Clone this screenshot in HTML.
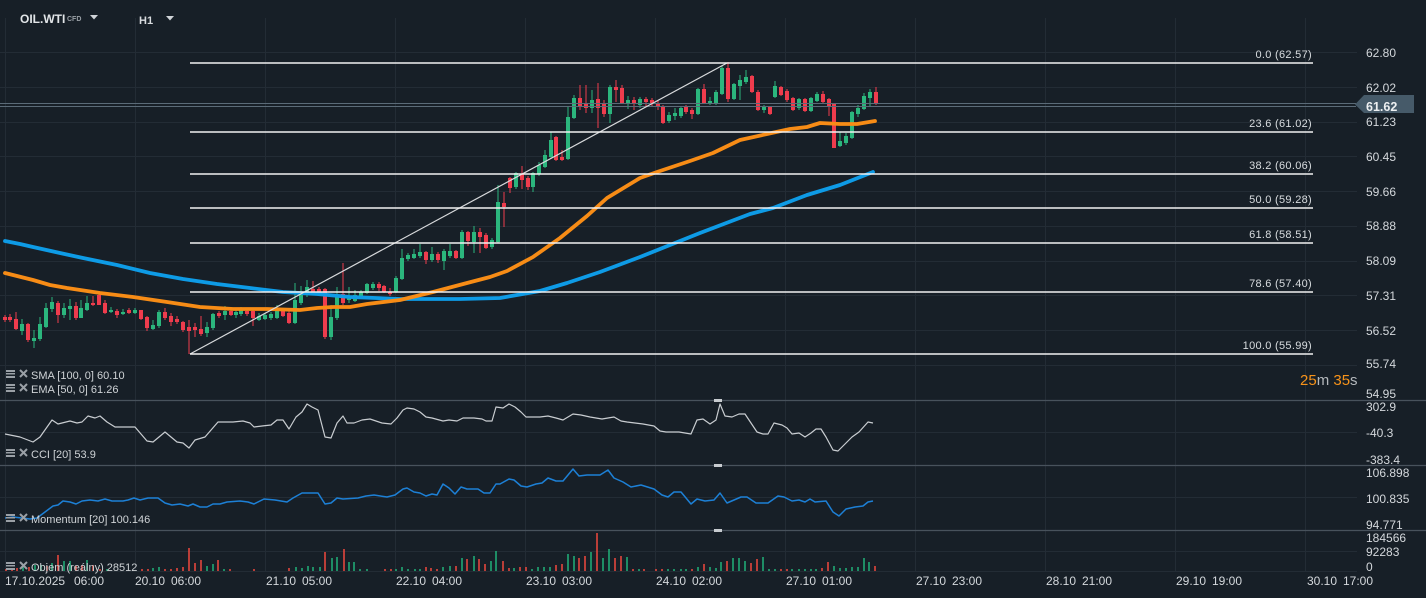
<!DOCTYPE html>
<html><head><meta charset="utf-8"><style>
html,body{margin:0;padding:0;background:#171f27;}
svg{display:block;}
text{font-family:"Liberation Sans",sans-serif;}
</style></head><body>
<svg width="1426" height="598" viewBox="0 0 1426 598" xmlns="http://www.w3.org/2000/svg">
<rect x="0" y="0" width="1426" height="598" fill="#171f27"/>
<!-- vertical grid -->
<g stroke="#232c35" stroke-width="1">
<path d="M5.5 18V572M135.5 18V572M265.5 18V572M395.5 18V572M525.5 18V572M655.5 18V572M785.5 18V572M915.5 18V572M1045.5 18V572M1175.5 18V572M1305.5 18V572"/>
<path d="M0 52.5H1357M0 87.5H1357M0 122.5H1357M0 156.5H1357M0 191.5H1357M0 226.5H1357M0 261.5H1357M0 295.5H1357M0 330.5H1357M0 365.5H1357M0 432.5H1357M0 497.5H1357M0 551.5H1357M0 571.5H1357"/>
</g>
<!-- separators -->
<g stroke="#48525c" stroke-width="1.2">
<path d="M0 400.5H1426M0 465.5H1426M0 530.5H1426"/>
</g>
<g fill="#c8ccd0"><rect x="714" y="399" width="8" height="3"/><rect x="714" y="464" width="8" height="3"/><rect x="714" y="529" width="8" height="3"/></g>

<!-- candles wicks -->
<path fill="none" stroke="#2bb67d" stroke-width="1" d="M22 319V335M34 330V348M40 317V341M46 303V328M52 297V312M64 303V318M70 299V320M81 300V318M87 296V311M111 307V313M123 309V315M135 308V314M153 320V330M159 310V328M207 322V337M213 313V330M225 306V320M236 309V318M241 307V316M259 313V321M265 313V320M271 312V320M277 305V319M295 283V324M301 286V305M307 280V297M331 305V340M337 287V320M349 287V303M355 290V302M361 290V299M367 283V294M373 282V290M396 276V293M402 249V280M408 253V261M414 249V259M420 244V258M432 247V262M444 249V270M450 244V258M462 230V259M474 226V253M492 238V249M498 185V243M516 172V189M533 172V192M539 162V176M545 150V168M551 132V158M568 106V160M574 95V119M592 90V113M610 85V123M628 96V109M640 97V108M669 112V123M675 108V120M681 107V118M698 88V115M710 97V105M716 90V105M722 66V95M734 83V100M740 75V100M746 70V84M764 105V113M775 81V98M799 98V110M811 97V112M817 92V102M840 132V147M846 133V145M852 111V139M858 105V117M864 93V110M870 89V106"/>
<path fill="none" stroke="#ef3c4d" stroke-width="1" d="M5 315V322M10 314V322M16 312V330M28 323V342M58 301V323M76 302V320M93 296V306M99 291V305M105 300V314M117 309V318M129 308V314M141 310V320M147 316V331M165 308V320M171 313V326M177 316V324M183 321V332M189 320V354M195 323V337M201 316V336M219 311V318M231 308V316M247 309V316M253 310V326M283 308V317M289 311V324M313 281V295M319 287V296M325 288V339M343 263V305M379 282V291M384 285V293M390 288V296M426 251V264M438 252V263M456 250V259M468 231V246M480 228V253M486 233V249M504 192V227M510 177V193M522 166V189M528 176V190M556 136V161M562 150V161M580 85V110M586 85V113M598 83V128M604 100V117M616 80V102M622 85V104M634 97V110M646 97V106M652 98V106M658 100V110M663 105V124M686 105V114M692 108V119M704 84V104M728 62V102M752 75V93M758 90V111M770 106V115M781 86V96M787 89V102M793 97V111M805 98V112M823 91V103M829 98V116M834 103V148M876 87V105"/>
<!-- candle bodies -->
<path fill="#2bb67d" d="M20 324h4v7h-4zM32 338h4v3h-4zM38 324h4v15h-4zM44 308h4v19h-4zM50 302h4v7h-4zM62 308h4v7h-4zM68 306h4v3h-4zM79 308h4v10h-4zM85 303h4v7h-4zM109 310h4v2h-4zM121 312h4v2h-4zM133 310h4v3h-4zM151 325h4v4h-4zM157 312h4v14h-4zM205 327h4v6h-4zM211 314h4v14h-4zM223 311h4v4h-4zM234 312h4v3h-4zM239 310h4v4h-4zM257 316h4v4h-4zM263 315h4v4h-4zM269 314h4v4h-4zM275 309h4v9h-4zM293 300h4v23h-4zM299 293h4v10h-4zM305 287h4v8h-4zM329 317h4v20h-4zM335 295h4v23h-4zM347 296h4v4h-4zM353 295h4v6h-4zM359 292h4v5h-4zM365 284h4v9h-4zM371 284h4v4h-4zM394 278h4v14h-4zM400 258h4v21h-4zM406 255h4v4h-4zM412 254h4v4h-4zM418 252h4v4h-4zM430 254h4v6h-4zM442 251h4v10h-4zM448 251h4v5h-4zM460 232h4v26h-4zM472 232h4v10h-4zM490 240h4v7h-4zM496 202h4v40h-4zM514 173h4v14h-4zM531 173h4v14h-4zM537 165h4v9h-4zM543 155h4v12h-4zM549 140h4v17h-4zM566 117h4v42h-4zM572 98h4v20h-4zM590 100h4v8h-4zM608 87h4v27h-4zM626 100h4v4h-4zM638 99h4v6h-4zM667 115h4v6h-4zM673 113h4v3h-4zM679 108h4v8h-4zM696 89h4v25h-4zM708 101h4v3h-4zM714 92h4v12h-4zM720 68h4v26h-4zM732 84h4v15h-4zM738 80h4v6h-4zM744 77h4v5h-4zM762 107h4v3h-4zM773 86h4v11h-4zM797 99h4v9h-4zM809 98h4v13h-4zM815 94h4v7h-4zM838 141h4v5h-4zM844 136h4v7h-4zM850 112h4v26h-4zM856 108h4v6h-4zM862 96h4v13h-4zM868 92h4v6h-4z"/>
<path fill="#ef3c4d" d="M3 317h4v3h-4zM8 317h4v3h-4zM14 319h4v10h-4zM26 324h4v16h-4zM56 303h4v12h-4zM74 306h4v12h-4zM91 303h4v2h-4zM97 295h4v10h-4zM103 303h4v10h-4zM115 311h4v4h-4zM127 310h4v3h-4zM139 310h4v9h-4zM145 317h4v11h-4zM163 312h4v6h-4zM169 316h4v6h-4zM175 319h4v3h-4zM181 322h4v8h-4zM187 327h4v4h-4zM193 327h4v3h-4zM199 329h4v5h-4zM217 313h4v3h-4zM229 311h4v4h-4zM245 311h4v3h-4zM251 311h4v7h-4zM281 309h4v7h-4zM287 313h4v10h-4zM311 289h4v4h-4zM317 289h4v3h-4zM323 289h4v48h-4zM341 294h4v9h-4zM377 284h4v4h-4zM382 286h4v6h-4zM388 292h4v2h-4zM424 252h4v8h-4zM436 254h4v6h-4zM454 251h4v7h-4zM466 232h4v9h-4zM478 232h4v5h-4zM484 235h4v13h-4zM502 203h4v4h-4zM508 178h4v10h-4zM520 174h4v6h-4zM526 178h4v9h-4zM554 137h4v23h-4zM560 157h4v3h-4zM578 98h4v9h-4zM584 104h4v4h-4zM596 99h4v9h-4zM602 104h4v10h-4zM614 87h4v3h-4zM620 88h4v15h-4zM632 100h4v4h-4zM644 99h4v3h-4zM650 100h4v3h-4zM656 103h4v3h-4zM661 106h4v17h-4zM684 107h4v5h-4zM690 110h4v4h-4zM702 89h4v14h-4zM726 68h4v31h-4zM750 76h4v16h-4zM756 92h4v18h-4zM768 107h4v7h-4zM779 87h4v8h-4zM785 91h4v9h-4zM791 98h4v12h-4zM803 99h4v12h-4zM821 94h4v8h-4zM827 99h4v8h-4zM832 104h4v44h-4zM874 92h4v12h-4z"/>

<!-- SMA 100 -->
<polyline fill="none" stroke="#0e9be6" stroke-width="3.8" stroke-linejoin="round" stroke-linecap="round" points="5,241 20,244 33,247 60,253 83,258 117,265 150,273 183,279 217,284 250,288 283,292 300,293 317,294 350,297 400,299 460,299 500,298 540,291 567,283 600,272 640,257 700,233 750,214 773,208 807,195 840,185 873,172"/>
<!-- EMA 50 -->
<polyline fill="none" stroke="#f78c16" stroke-width="3.8" stroke-linejoin="round" stroke-linecap="round" points="5,273 33,280 50,285 67,288 100,293 133,297 167,302 200,307 233,309 267,309 300,310 317,308 333,307 350,307 367,304 400,300 433,292 467,283 490,277 507,271 533,257 560,238 587,216 607,198 640,178 657,172 690,161 713,153 740,140 767,134 790,129 807,127 820,123 840,124 857,124 875,121"/>

<!-- current price line -->
<g stroke="#5b6b78" stroke-width="1"><path d="M0 103.5H1356M0 106.5H1356"/></g>
<polygon points="1355,104.5 1364,95 1414,95 1414,113 1364,113" fill="#465a69"/>
<text x="1366" y="111" font-size="12.5" font-weight="bold" fill="#eef0f2">61.62</text>

<!-- fib -->
<line x1="190" y1="354" x2="727" y2="63" stroke="#d8dadc" stroke-width="1.2"/>
<g stroke="#f2f2f2" stroke-width="1.5">
<path d="M190 63H1313M190 132H1313M190 174H1313M190 208H1313M190 243H1313M190 292H1313M190 354H1313"/>
</g>
<g font-size="11" fill="#d8dcdf" text-anchor="end" letter-spacing="0.3">
<text x="1312" y="58">0.0 (62.57)</text>
<text x="1312" y="127">23.6 (61.02)</text>
<text x="1312" y="169">38.2 (60.06)</text>
<text x="1312" y="203">50.0 (59.28)</text>
<text x="1312" y="238">61.8 (58.51)</text>
<text x="1312" y="287">78.6 (57.40)</text>
<text x="1312" y="349">100.0 (55.99)</text>
</g>

<!-- CCI -->
<polyline fill="none" stroke="#c9cdd1" stroke-width="1.2" stroke-linejoin="round" points="5,434 10,435 20,437 33,442 40,437 52,420 58,424 70,421 77,423 82,422 88,416 95,418 100,416 107,422 115,427 123,427 135,427 147,441 153,442 165,432 177,442 183,443 189,448 195,440 205,437 218,422 233,422 243,421 250,423 254,427 262,426 271,425 277,420 283,420 289,429 296,417 302,412 307,404 312,407 318,410 325,437 331,438 337,423 343,416 347,423 354,423 362,420 370,419 382,423 391,424 397,418 403,410 407,408 414,409 420,412 426,417 432,418 443,421 449,420 457,421 463,418 474,418 482,419 486,421 492,421 496,407 503,408 509,404 515,407 521,412 526,417 540,417 548,416 556,418 563,420 573,414 581,415 590,417 596,418 602,419 608,418 614,417 621,421 627,422 635,423 643,424 654,426 660,431 666,432 679,432 685,433 691,434 697,420 703,419 710,424 716,420 720,404 725,416 732,417 739,414 745,414 751,423 757,432 763,434 768,434 774,423 782,425 787,428 792,434 799,433 805,437 811,433 816,429 821,429 826,437 833,450 838,451 846,443 852,437 859,432 868,422 873,423"/>
<!-- Momentum -->
<polyline fill="none" stroke="#1d80d6" stroke-width="1.5" stroke-linejoin="round" points="5,518 13,517 22,518 30,519 37,518 45,512 53,506 58,505 63,501 70,502 76,504 82,501 90,500 98,501 105,499 112,501 123,501 128,500 134,498 140,500 148,498 158,498 165,503 172,505 180,504 188,506 193,504 200,507 207,507 213,504 220,504 227,502 240,501 248,502 254,504 264,499 275,500 287,502 293,498 302,493 308,493 318,493 325,504 331,503 337,498 343,499 358,498 366,496 374,495 387,497 395,495 403,489 407,488 414,492 420,493 426,496 432,494 437,495 443,484 449,488 455,494 461,487 467,489 478,489 484,493 490,493 496,484 500,484 509,479 514,480 521,486 527,487 536,484 542,483 548,478 556,481 563,481 573,469 579,476 587,475 600,475 608,470 614,478 623,482 631,487 641,485 654,489 662,495 668,497 674,492 681,492 691,504 697,499 705,501 714,500 720,493 727,503 741,497 747,497 756,503 768,503 778,496 784,497 792,501 799,500 805,502 810,499 815,502 826,501 833,512 839,516 846,509 855,507 863,506 868,502 873,501"/>
<!-- Volume -->
<path fill="none" stroke="#20b27a" stroke-width="1.5" d="M23 567V571M35 565V571M41 565V571M52 563V571M64 561V571M70 561V571M87 560V571M107 569V571M153 568V571M159 567V571M207 566V571M213 564V571M224 569V571M296 567V571M302 568V571M308 566V571M313 567V571M320 567V571M332 558V571M337 557V571M349 562V571M354 562V571M360 569V571M367 569V571M396 569V571M402 567V571M408 569V571M415 569V571M420 569V571M443 567V571M450 566V571M462 558V571M474 556V571M491 561V571M496 551V571M514 568V571M532 569V571M538 567V571M544 567V571M550 567V571M568 554V571M574 556V571M591 552V571M603 558V571M609 549V571M627 557V571M639 569V571M668 569V571M674 569V571M681 569V571M686 569V571M698 567V571M710 567V571M716 568V571M721 562V571M733 558V571M739 558V571M745 561V571M763 557V571M769 569V571M775 569V571M792 569V571M799 569V571M805 569V571M811 569V571M816 569V571M834 566V571M840 568V571M846 568V571M852 567V571M858 567V571M864 558V571M869 562V571"/>
<path fill="none" stroke="#f0483e" stroke-width="1.5" d="M6 569V571M12 569V571M17 568V571M29 567V571M47 566V571M58 555V571M76 566V571M82 565V571M93 565V571M100 569V571M142 569V571M148 569V571M165 569V571M171 569V571M177 568V571M183 567V571M189 548V571M195 563V571M201 560V571M218 560V571M230 569V571M254 569V571M289 568V571M325 552V571M344 549V571M385 569V571M391 569V571M426 567V571M431 568V571M437 569V571M456 566V571M467 559V571M479 559V571M485 564V571M503 561V571M509 568V571M520 567V571M526 567V571M556 565V571M562 564V571M579 558V571M585 556V571M597 533V571M615 558V571M621 556V571M633 569V571M644 569V571M656 569V571M662 569V571M692 569V571M704 564V571M727 561V571M751 563V571M757 559V571M781 569V571M787 569V571M822 568V571M828 562V571M875 566V571"/>

<!-- legend icons -->
<g fill="#9aa0a6">
<rect x="6" y="370" width="9" height="2"/><rect x="6" y="373" width="9" height="1.5"/><rect x="6" y="376" width="9" height="2"/>
<rect x="6" y="384" width="9" height="2"/><rect x="6" y="387" width="9" height="1.5"/><rect x="6" y="390" width="9" height="2"/>
<rect x="6" y="449" width="9" height="2"/><rect x="6" y="452" width="9" height="1.5"/><rect x="6" y="455" width="9" height="2"/>
<rect x="6" y="514" width="9" height="2"/><rect x="6" y="517" width="9" height="1.5"/><rect x="6" y="520" width="9" height="2"/>
<rect x="6" y="562" width="9" height="2"/><rect x="6" y="565" width="9" height="1.5"/><rect x="6" y="568" width="9" height="2"/>
</g>
<g stroke="#9aa0a6" stroke-width="2">
<path d="M20 370L27 377M27 370L20 377"/>
<path d="M20 384L27 391M27 384L20 391"/>
<path d="M20 449L27 456M27 449L20 456"/>
<path d="M20 514L27 521M27 514L20 521"/>
<path d="M20 562L27 569M27 562L20 569"/>
</g>
<g font-size="11" fill="#cfd3d6">
<text x="31" y="379">SMA [100, 0] 60.10</text>
<text x="31" y="393">EMA [50, 0] 61.26</text>
<text x="31" y="458">CCI [20] 53.9</text>
<text x="31" y="523">Momentum [20] 100.146</text>
<text x="31" y="571">Objem (reálny) 28512</text>
</g>

<!-- header -->
<text x="20" y="23" font-size="12" font-weight="bold" fill="#e2e5e8">OIL.WTI</text>
<text x="67" y="21" font-size="7" font-weight="bold" fill="#9aa0a6">CFD</text>
<polygon points="90,15 98,15 94,19.5" fill="#d0d4d8"/>
<text x="139" y="24" font-size="11" font-weight="bold" fill="#d8dbde">H1</text>
<polygon points="166,16 174,16 170,20.5" fill="#d0d4d8"/>

<!-- right axis -->
<g font-size="12" fill="#d4d8dc">
<text x="1366" y="57">62.80</text>
<text x="1366" y="92">62.02</text>
<text x="1366" y="126">61.23</text>
<text x="1366" y="161">60.45</text>
<text x="1366" y="196">59.66</text>
<text x="1366" y="230">58.88</text>
<text x="1366" y="265">58.09</text>
<text x="1366" y="300">57.31</text>
<text x="1366" y="335">56.52</text>
<text x="1366" y="368">55.74</text>
<text x="1366" y="398">54.95</text>
<text x="1366" y="411">302.9</text>
<text x="1366" y="437">-40.3</text>
<text x="1366" y="464">-383.4</text>
<text x="1366" y="477">106.898</text>
<text x="1366" y="503">100.835</text>
<text x="1366" y="529">94.771</text>
<text x="1366" y="542">184566</text>
<text x="1366" y="556">92283</text>
<text x="1366" y="571">0</text>
</g>
<!-- countdown -->
<text x="1300" y="385" font-size="15"><tspan fill="#f7931a">25</tspan><tspan fill="#b4b8bc">m </tspan><tspan fill="#f7931a">35</tspan><tspan fill="#b4b8bc">s</tspan></text>

<!-- time axis -->
<g font-size="12" fill="#d4d8dc">
<text x="5" y="585">17.10.2025</text><text x="74" y="585">06:00</text>
<text x="135" y="585">20.10</text><text x="171" y="585">06:00</text>
<text x="266" y="585">21.10</text><text x="302" y="585">05:00</text>
<text x="396" y="585">22.10</text><text x="432" y="585">04:00</text>
<text x="526" y="585">23.10</text><text x="562" y="585">03:00</text>
<text x="656" y="585">24.10</text><text x="692" y="585">02:00</text>
<text x="786" y="585">27.10</text><text x="822" y="585">01:00</text>
<text x="916" y="585">27.10</text><text x="952" y="585">23:00</text>
<text x="1046" y="585">28.10</text><text x="1082" y="585">21:00</text>
<text x="1176" y="585">29.10</text><text x="1212" y="585">19:00</text>
<text x="1307" y="585">30.10</text><text x="1343" y="585">17:00</text>
</g>
</svg>
</body></html>
